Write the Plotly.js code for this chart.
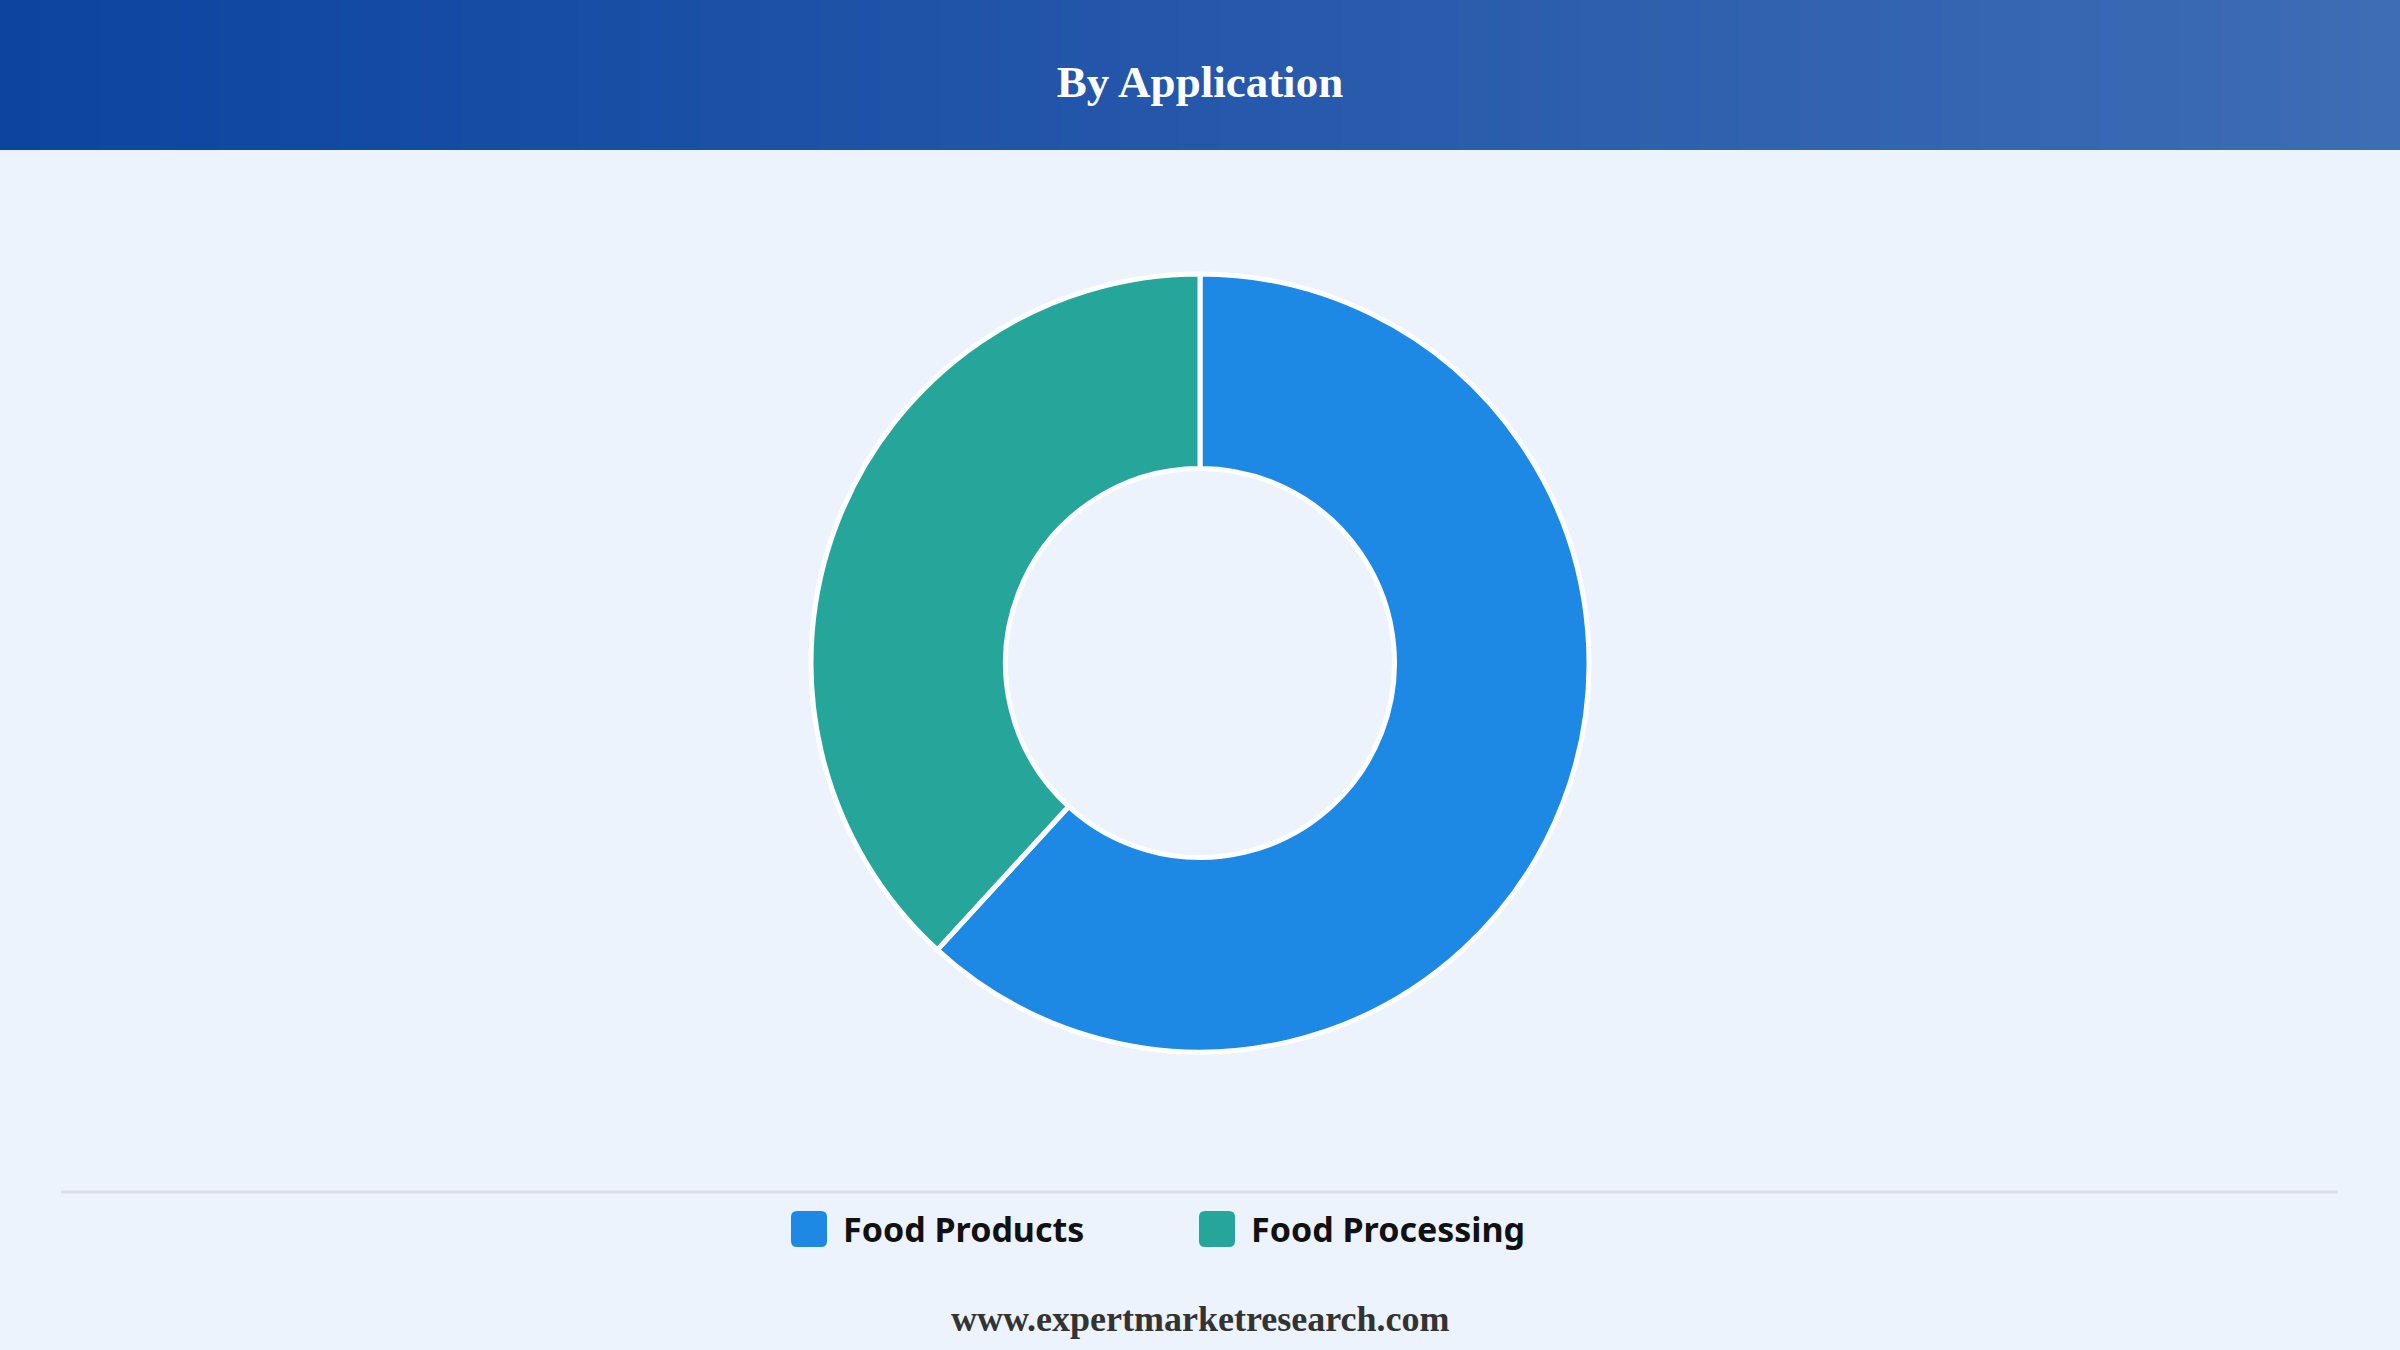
<!DOCTYPE html>
<html>
<head>
<meta charset="utf-8">
<script src="https://cdn.plot.ly/plotly-3.0.1.min.js"></script>
<style>
  html, body { margin: 0; padding: 0; background: #ecf3fc; }
  #chart { width: 2400px; height: 1350px; }
</style>
</head>
<body>
<div id="chart"></div>
<script>
// Chart data
const labels = ['Food Products', 'Food Processing'];
const shares = [61.8, 38.2];
const colors = ['#1e88e5', '#26a69a'];

const W = 2400, H = 1350;
const px = x => x / W;
const py = y => 1 - y / H;

// Header gradient built from thin strips
function headerShapes() {
    const from = [12, 68, 160], to = [62, 108, 181];
    const n = 120, shapes = [];
    for (let i = 0; i < n; i++) {
        const t = i / (n - 1);
        const c = from.map((v, k) => Math.round(v + (to[k] - v) * t));
        shapes.push({
            type: 'rect', xref: 'paper', yref: 'paper', layer: 'below',
            x0: i / n, x1: (i + 1) / n + 0.001, y0: py(150), y1: 1,
            fillcolor: `rgb(${c.join(',')})`, line: { width: 0 }
        });
    }
    return shapes;
}

// Rounded square swatch in paper coords
function swatch(cx, cy, size, r, color) {
    const x0 = cx - size / 2, x1 = cx + size / 2, y0 = cy - size / 2, y1 = cy + size / 2;
    const P = (x, y) => `${px(x)},${py(y)}`;
    const path = `M ${P(x0 + r, y0)} L ${P(x1 - r, y0)} Q ${P(x1, y0)} ${P(x1, y0 + r)} ` +
        `L ${P(x1, y1 - r)} Q ${P(x1, y1)} ${P(x1 - r, y1)} L ${P(x0 + r, y1)} ` +
        `Q ${P(x0, y1)} ${P(x0, y1 - r)} L ${P(x0, y0 + r)} Q ${P(x0, y0)} ${P(x0 + r, y0)} Z`;
    return { type: 'path', xref: 'paper', yref: 'paper', path, fillcolor: color, line: { width: 0 } };
}

const shapes = headerShapes();
shapes.push({
    type: 'line', xref: 'paper', yref: 'paper',
    x0: px(61), x1: px(2338), y0: py(1192), y1: py(1192),
    line: { color: '#dcdfe4', width: 3 }
});

const annotations = [];
const legendStart = 809, legendStep = 408, legendY = 1229;
labels.forEach((lab, i) => {
    const cx = legendStart + i * legendStep;
    shapes.push(swatch(cx, legendY, 36, 6, colors[i]));
    annotations.push({
        text: lab, xref: 'paper', yref: 'paper',
        x: px(cx + 32), y: py(legendY), xanchor: 'left', yanchor: 'middle',
        showarrow: false,
        font: { family: 'Noto Sans, sans-serif', size: 34, color: '#111111', weight: 'bold' }
    });
});

annotations.push({
    text: '<b>www.expertmarketresearch.com</b>', xref: 'paper', yref: 'paper',
    x: 0.5, y: py(1319), xanchor: 'center', yanchor: 'middle', showarrow: false,
    font: { family: 'Liberation Serif, serif', size: 36, color: '#333333' }
});

const trace = {
    type: 'pie',
    labels: labels,
    values: shares,
    hole: 0.5,
    sort: false,
    direction: 'clockwise',
    rotation: 0,
    textinfo: 'none',
    hoverinfo: 'label+percent',
    marker: { colors: colors, line: { color: '#ffffff', width: 5 } },
    domain: { x: [0, 1], y: [py(1052), py(274)] },
    showlegend: false
};

const layout = {
    width: W, height: H,
    paper_bgcolor: '#ecf3fc',
    plot_bgcolor: '#ecf3fc',
    margin: { l: 0, r: 0, t: 0, b: 0 },
    showlegend: false,
    title: {
        text: '<b>By Application</b>',
        x: 0.5, xanchor: 'center',
        y: py(81), yref: 'container', yanchor: 'middle',
        font: { family: 'Liberation Serif, serif', size: 45, color: '#ffffff' }
    },
    shapes, annotations
};

Plotly.newPlot('chart', [trace], layout, { displayModeBar: false, staticPlot: true });
</script>
</body>
</html>
